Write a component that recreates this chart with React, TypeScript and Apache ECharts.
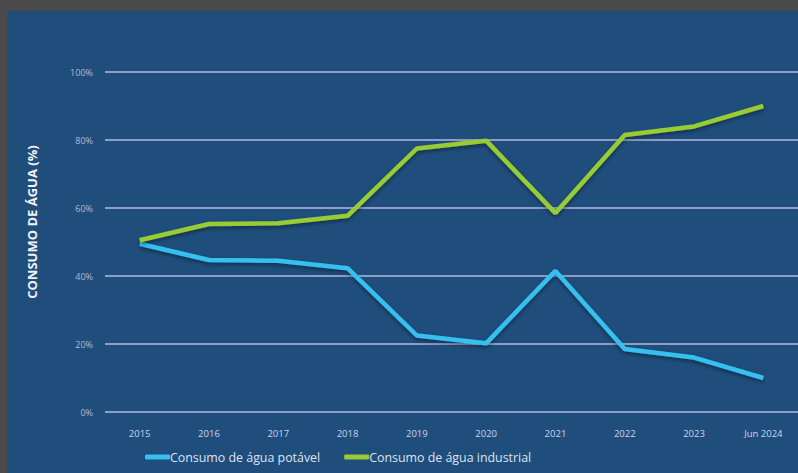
import React, { useEffect, useRef } from "react";
import * as echarts from "echarts";

const categories = ["2015", "2016", "2017", "2018", "2019", "2020", "2021", "2022", "2023", "Jun 2024"];
const potavel = [49.5, 44.7, 44.5, 42.3, 22.5, 20.2, 41.5, 18.5, 16, 10];
const industrial = [50.5, 55.3, 55.5, 57.7, 77.5, 79.8, 58.5, 81.5, 84, 90];
const yTicks = [0, 20, 40, 60, 80, 100];
const seriesNames = ["Consumo de água potável", "Consumo de água industrial"];
const axisName = "CONSUMO DE ÁGUA (%)";

export default function App() {
  const ref = useRef<HTMLDivElement>(null);
  useEffect(() => {
    const chart = echarts.init(ref.current!, undefined, { renderer: "svg" });
    const font = "'Open Sans', 'Liberation Sans', sans-serif";
    chart.setOption({
      animation: false,
      backgroundColor: "#4a4a4a",
      graphic: [
        {
          type: "rect",
          z: -10,
          silent: true,
          shape: { x: 7, y: 11, width: 800, height: 470 },
          style: { fill: "#1f4e7d" },
        },
        {
          type: "text",
          x: 32,
          y: 222,
          rotation: Math.PI / 2,
          style: {
            text: axisName,
            fill: "#f2f2f8",
            font: `bold 13px ${font}`,
            align: "center",
            verticalAlign: "middle",
          },
        },
      ],
      grid: { left: 105, right: -7, top: 72, bottom: 61 },
      legend: {
        left: 140,
        top: 446,
        itemWidth: 25,
        itemHeight: 5,
        itemGap: 24,
        icon: "roundRect",
        textStyle: { color: "#dfe2f2", fontSize: 12.4, fontFamily: font, padding: [0, 0, 0, -5] },
        data: seriesNames,
      },
      xAxis: {
        type: "category",
        data: categories,
        boundaryGap: true,
        axisLine: { show: false },
        axisTick: { show: false },
        axisLabel: { color: "#d0d3ec", fontSize: 9.5, fontFamily: font, margin: 16, interval: 0 },
      },
      yAxis: {
        type: "value",
        min: 0,
        max: 100,
        interval: 20,
        axisLine: { show: false },
        axisTick: { show: false },
        axisLabel: {
          color: "#b3b6da",
          fontSize: 9,
          fontFamily: font,
          margin: 12,
          formatter: (v: number) => (yTicks.includes(v) ? v + "%" : ""),
        },
        splitLine: { lineStyle: { color: "#b9b8e2", width: 1.5 } },
      },
      series: [
        {
          name: seriesNames[0],
          type: "line",
          data: potavel,
          symbol: "none",
          color: "#35c0ef",
          lineStyle: {
            width: 4.5,
            color: "#35c0ef",
            shadowColor: "rgba(0,0,0,0.45)",
            shadowBlur: 4,
            shadowOffsetY: 2,
          },
        },
        {
          name: seriesNames[1],
          type: "line",
          data: industrial,
          symbol: "none",
          color: "#98cc35",
          lineStyle: {
            width: 4.5,
            color: "#98cc35",
            shadowColor: "rgba(0,0,0,0.45)",
            shadowBlur: 4,
            shadowOffsetY: 2,
          },
        },
      ],
    });
    return () => chart.dispose();
  }, []);
  return (
    <div style={{ position: "fixed", left: 0, top: 0, width: 798, height: 473, overflow: "hidden" }}>
      <div ref={ref} style={{ width: 798, height: 473 }} />
    </div>
  );
}
